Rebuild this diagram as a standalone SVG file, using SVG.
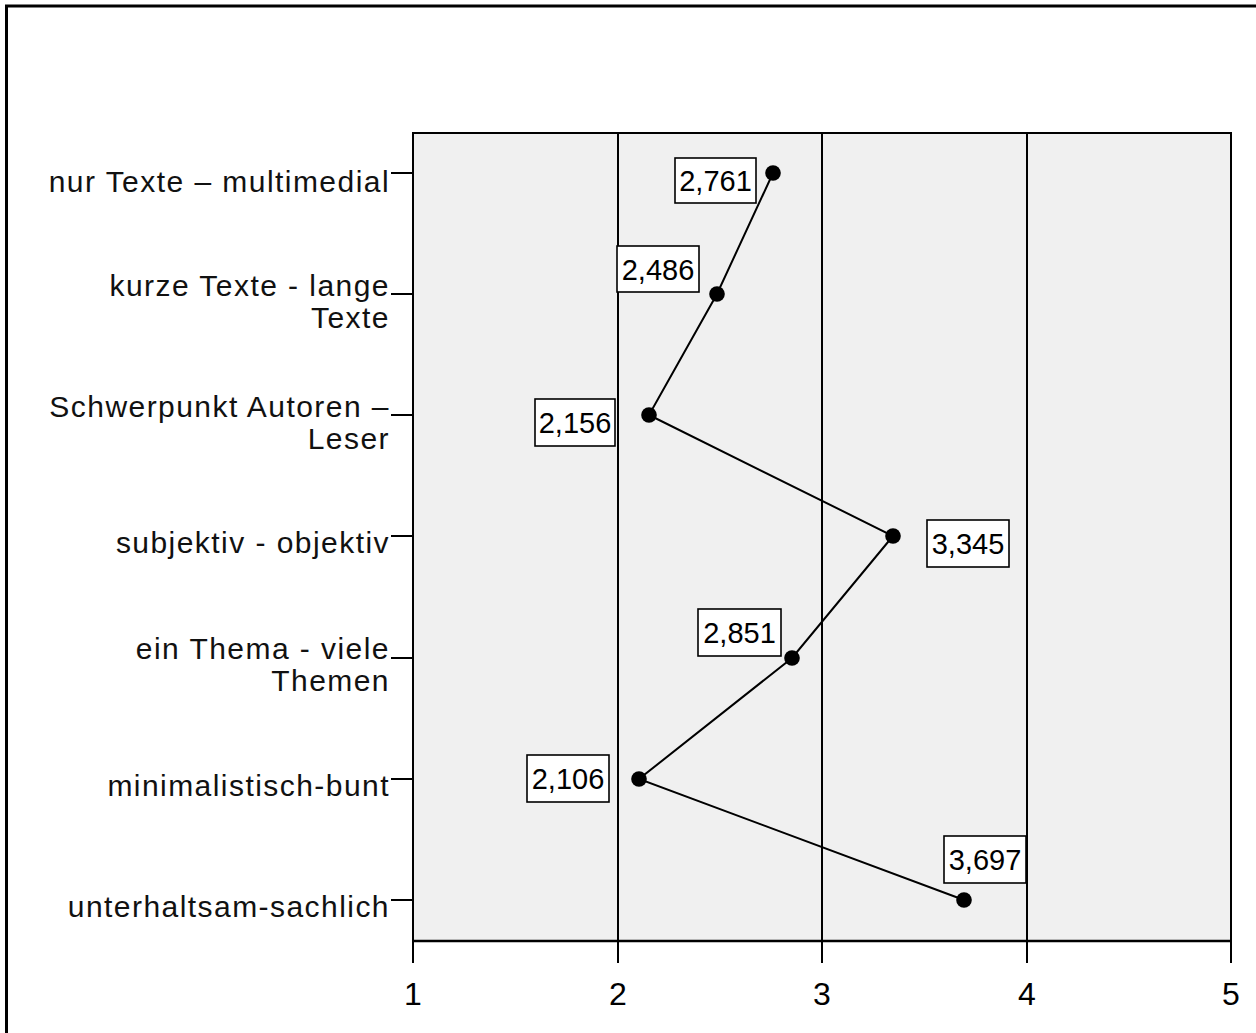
<svg xmlns="http://www.w3.org/2000/svg" width="1256" height="1033" viewBox="0 0 1256 1033">
<style>
.cat{font-family:"Liberation Sans",Arial,sans-serif;font-size:30px;letter-spacing:1.45px;fill:#111;text-anchor:end}
.num{font-family:"Liberation Sans",Arial,sans-serif;font-size:32px;fill:#000;text-anchor:middle}
.val{font-family:"Liberation Sans",Arial,sans-serif;font-size:29px;fill:#000;text-anchor:middle}
.box{fill:#fff;stroke:#000;stroke-width:1.6}
.grid{stroke:#000;stroke-width:2;fill:none}
.dot{fill:#000}
</style>
<rect width="1256" height="1033" fill="#fff"/>
<rect x="6.5" y="6" width="1262" height="1040" fill="none" stroke="#000" stroke-width="3"/>
<g id="plot">
<rect x="413" y="133" width="818" height="808" fill="#f0f0f0" stroke="#000" stroke-width="2"/>
<line class="grid" x1="618" y1="133" x2="618" y2="941"/>
<line class="grid" x1="822" y1="133" x2="822" y2="941"/>
<line class="grid" x1="1027" y1="133" x2="1027" y2="941"/>
<line x1="413" y1="941" x2="1231" y2="941" stroke="#000" stroke-width="2.5"/>
</g>
<g id="x-axis">
<path class="grid" d="M413 941V963M618 941V963M822 941V963M1027 941V963M1231 941V963"/>
<text class="num" x="413" y="1005">1</text>
<text class="num" x="618" y="1005">2</text>
<text class="num" x="822" y="1005">3</text>
<text class="num" x="1027" y="1005">4</text>
<text class="num" x="1231" y="1005">5</text>
</g>
<g id="y-axis">
<path class="grid" d="M391 173H413M391 294H413M391 415H413M391 536H413M391 658H413M391 779H413M391 900H413"/>
<text class="cat" x="390" y="192">nur Texte – multimedial</text>
<text class="cat" x="390" y="296">kurze Texte - lange</text>
<text class="cat" x="390" y="328">Texte</text>
<text class="cat" x="390" y="417">Schwerpunkt Autoren –</text>
<text class="cat" x="390" y="449">Leser</text>
<text class="cat" x="390" y="553">subjektiv - objektiv</text>
<text class="cat" x="390" y="659">ein Thema - viele</text>
<text class="cat" x="390" y="691">Themen</text>
<text class="cat" x="390" y="796">minimalistisch-bunt</text>
<text class="cat" x="390" y="917">unterhaltsam-sachlich</text>
</g>
<g id="connectors">
<polyline points="773,173 717,294 649,415 893,536 792,658 639,779 964,900" fill="none" stroke="#000" stroke-width="2"/>
</g>
<g id="p1"><circle class="dot" cx="773" cy="173" r="7.8"/><rect class="box" x="675" y="158" width="81" height="45"/><text class="val" x="715.5" y="191">2,761</text></g>
<g id="p2"><circle class="dot" cx="717" cy="294" r="7.8"/><rect class="box" x="617" y="246" width="82" height="46"/><text class="val" x="658" y="280">2,486</text></g>
<g id="p3"><circle class="dot" cx="649" cy="415" r="7.8"/><rect class="box" x="535" y="399" width="80" height="47"/><text class="val" x="575" y="433">2,156</text></g>
<g id="p4"><circle class="dot" cx="893" cy="536" r="7.8"/><rect class="box" x="927" y="520" width="82" height="47"/><text class="val" x="968" y="554">3,345</text></g>
<g id="p5"><circle class="dot" cx="792" cy="658" r="7.8"/><rect class="box" x="698" y="609" width="83" height="47"/><text class="val" x="739.5" y="643">2,851</text></g>
<g id="p6"><circle class="dot" cx="639" cy="779" r="7.8"/><rect class="box" x="527" y="755" width="82" height="47"/><text class="val" x="568" y="789">2,106</text></g>
<g id="p7"><circle class="dot" cx="964" cy="900" r="7.8"/><rect class="box" x="944" y="836" width="82" height="47"/><text class="val" x="985" y="870">3,697</text></g>
</svg>
